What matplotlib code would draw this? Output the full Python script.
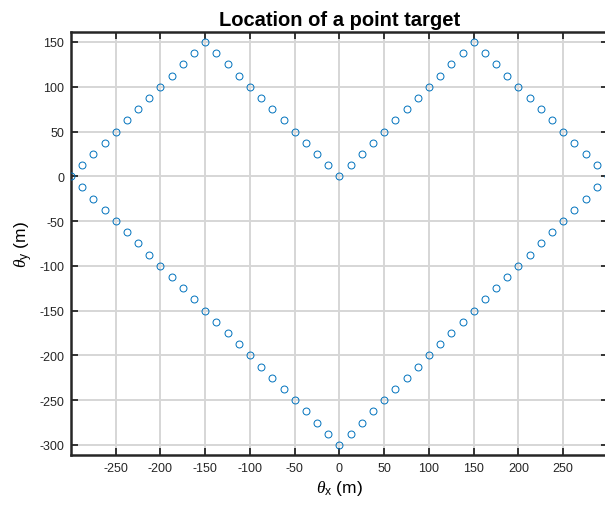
import matplotlib
matplotlib.use("Agg")
import matplotlib.pyplot as plt

# Upper boundary of the heart (x, y)
x_upper = [-300, -287.5, -275, -262.5, -250, -237.5, -225, -212.5, -200, -187.5,
           -175, -162.5, -150, -137.5, -125, -112.5, -100, -87.5, -75, -62.5,
           -50, -37.5, -25, -12.5, 0, 12.5, 25, 37.5, 50, 62.5,
           75, 87.5, 100, 112.5, 125, 137.5, 150, 162.5, 175, 187.5,
           200, 212.5, 225, 237.5, 250, 262.5, 275, 287.5, 300]
y_upper = [0, 12.5, 25, 37.5, 50, 62.5, 75, 87.5, 100, 112.5,
           125, 137.5, 150, 137.5, 125, 112.5, 100, 87.5, 75, 62.5,
           50, 37.5, 25, 12.5, 0, 12.5, 25, 37.5, 50, 62.5,
           75, 87.5, 100, 112.5, 125, 137.5, 150, 137.5, 125, 112.5,
           100, 87.5, 75, 62.5, 50, 37.5, 25, 12.5, 0]

# Lower boundary of the heart (x, y)
x_lower = [-287.5, -275, -262.5, -250, -237.5, -225, -212.5, -200, -187.5,
           -175, -162.5, -150, -137.5, -125, -112.5, -100, -87.5, -75, -62.5,
           -50, -37.5, -25, -12.5, 0, 12.5, 25, 37.5, 50, 62.5,
           75, 87.5, 100, 112.5, 125, 137.5, 150, 162.5, 175, 187.5,
           200, 212.5, 225, 237.5, 250, 262.5, 275, 287.5]
y_lower = [-12.5, -25, -37.5, -50, -62.5, -75, -87.5, -100, -112.5,
           -125, -137.5, -150, -162.5, -175, -187.5, -200, -212.5, -225, -237.5,
           -250, -262.5, -275, -287.5, -300, -287.5, -275, -262.5, -250, -237.5,
           -225, -212.5, -200, -187.5, -175, -162.5, -150, -137.5, -125, -112.5,
           -100, -87.5, -75, -62.5, -50, -37.5, -25, -12.5]

x_ticks = [-250, -200, -150, -100, -50, 0, 50, 100, 150, 200, 250]
y_ticks = [-300, -250, -200, -150, -100, -50, 0, 50, 100, 150]

plt.rcParams['font.family'] = ['Liberation Sans', 'DejaVu Sans']
plt.rcParams['axes.unicode_minus'] = False
plt.rcParams['mathtext.fontset'] = 'custom'
plt.rcParams['mathtext.it'] = 'Liberation Serif:italic'
plt.rcParams['mathtext.rm'] = 'Liberation Sans'

W, H = 605, 506
fig = plt.figure(figsize=(W / 100, H / 100), dpi=100)
left, right, top, bottom = 71, 608, 33.3, 456
ax = fig.add_axes([left / W, 1 - bottom / H, (right - left) / W, (bottom - top) / H])

color = '#0072BD'
ax.plot(x_upper, y_upper, linestyle='none', marker='o', markersize=5,
        markerfacecolor='none', markeredgecolor=color, markeredgewidth=0.7, zorder=3)
ax.plot(x_lower, y_lower, linestyle='none', marker='o', markersize=5,
        markerfacecolor='none', markeredgecolor=color, markeredgewidth=0.7, zorder=3)

ax.set_xlim(-300, 300)
ax.set_ylim(-311.2, 160.8)
ax.set_xticks(x_ticks)
ax.set_yticks(y_ticks)
ax.tick_params(direction='in', length=5, width=1.3, labelsize=9, colors='#262626',
               top=True, right=True, pad=5)
for s in ax.spines.values():
    s.set_linewidth(1.8)
    s.set_color('#262626')
ax.grid(True, color='#d6d6d6', linewidth=1.4, zorder=0)
ax.set_axisbelow(True)

ax.set_title('Location of a point target', fontsize=14.5, fontweight='bold', pad=5)
ax.set_xlabel(r'$\theta_{\rm x}$ (m)', fontsize=12.5, labelpad=3)
ax.set_ylabel(r'$\theta_{\rm y}$ (m)', fontsize=12.5, labelpad=3)

fig.savefig('out.png', dpi=100)
